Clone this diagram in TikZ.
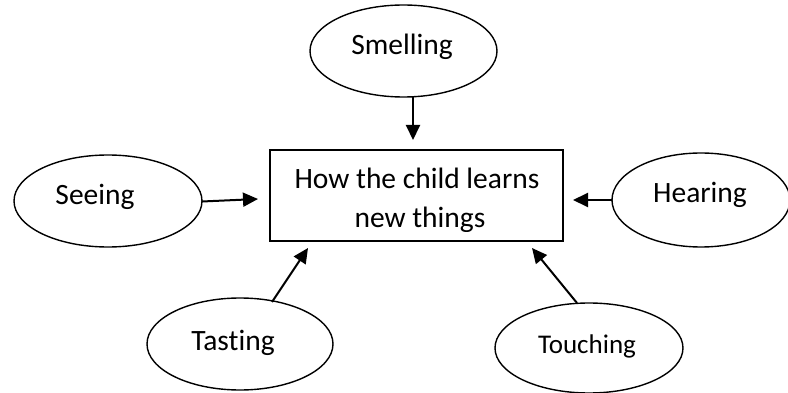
\documentclass[tikz,border=0pt]{standalone}
\usepackage{fontspec}
\setmainfont{Carlito}[Ligatures=NoCommon]
\usetikzlibrary{arrows.meta}
\begin{document}
\begin{tikzpicture}[x=1pt,y=-1pt,
  lbl/.style={anchor=base,inner sep=0pt,font=\fontsize{29.5}{35}\selectfont},
  arr/.style={line width=2pt,-{Triangle[length=15pt,width=14pt]}},
  boxstyle/.style={draw=black,line width=1.8pt}]
\useasboundingbox (0,0) rectangle (788,393);
\begin{scope}
\clip (0,0) rectangle (788,393);
% ellipses
\draw[line width=1.4pt] (403.5,51) ellipse [x radius=93.5, y radius=46];
\draw[line width=1.4pt] (108,201) ellipse [x radius=94, y radius=46];
\draw[line width=1.4pt] (701,200) ellipse [x radius=89, y radius=47];
\draw[line width=1.4pt] (240,344) ellipse [x radius=93, y radius=46];
\draw[line width=1.4pt] (589,348) ellipse [x radius=94, y radius=45];
\end{scope}
% labels
\node[lbl] (smell) at (402,55) {Smelling};
\node[lbl] (see) at (95,205) {Seeing};
\node[lbl] (hear) at (700,203) {Hearing};
\node[lbl] (taste) at (233,350) {Tasting};
\node[lbl,font=\fontsize{27}{32}\selectfont] (touch) at (587,353) {Touching};
% central box
\node[boxstyle,minimum width=293pt,minimum height=91pt,inner sep=0pt] (box) at (416.5,195.5) {};
\begin{scope}
\clip (270,150) rectangle (563,232);
\node[lbl] (l1) at (417,189) {How the child learns};
\node[lbl] (l2) at (420,228) {new things};
\end{scope}
% arrow end coordinates
\coordinate (s1) at (413,97);
\coordinate (s2) at (413,140);
\coordinate (e1) at (202,201.5);
\coordinate (e2) at (258,199);
\coordinate (h1) at (612,200);
\coordinate (h2) at (573,200);
\coordinate (t1) at (272,302);
\coordinate (t2) at (308,248);
\coordinate (u1) at (577,303);
\coordinate (u2) at (532,248);
\draw[arr] (s1) -- (s2);
\draw[arr] (e1) -- (e2);
\draw[arr] (h1) -- (h2);
\draw[arr] (t1) -- (t2);
\draw[arr] (u1) -- (u2);
\end{tikzpicture}
\end{document}
